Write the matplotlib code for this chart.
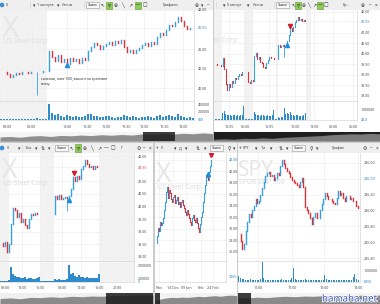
import numpy as np
import matplotlib
matplotlib.use("Agg")
import matplotlib.pyplot as plt
from matplotlib.patches import Rectangle, Circle
import matplotlib.patheffects as pe

W, H = 380, 304
plt.rcParams['font.family'] = ['Noto Sans', 'DejaVu Sans']
UP, DN = '#3aa0dc', '#d8343c'
VOLC = '#2f8ccb'
GRID = '#efefef'
OFF = '#f2f2f2'
TXT = '#555555'
FS = 2.7

# ---------------- data: top-left (X, 1 min) ----------------
tl_close = [40.42, 40.40, 40.35, 40.28, 40.33, 40.38, 40.36, 40.40, 40.42, 40.38,
            40.40, 40.41, 40.40, 40.42, 40.43, 40.45, 40.96, 40.80, 40.70, 40.85,
            40.68, 40.75, 40.62, 40.78, 40.70, 40.74, 40.65, 40.78, 40.72, 40.95,
            41.05, 41.15, 41.10, 41.00, 41.08, 41.12, 41.18, 41.10, 41.20, 41.15,
            41.22, 41.05, 40.92, 40.98, 40.90, 40.97, 41.02, 41.10, 41.15, 41.08,
            41.18, 41.12, 41.30, 41.42, 41.35, 41.50, 41.62, 41.58, 41.70, 41.82,
            41.72, 41.58, 41.52, 41.55, 41.55]
tl_vol = [6000, 4000, 9000, 5000, 3000, 7000, 4000, 5000, 3000, 6000,
          4000, 5000, 30000, 4000, 6000, 9000,
          390000, 160000, 110000, 140000, 90000, 70000, 120000, 80000, 60000, 95000,
          55000, 75000, 85000, 130000, 150000, 100000, 90000, 70000, 60000, 95000,
          80000, 55000, 50000, 70000, 65000, 110000, 95000, 60000, 85000, 55000,
          45000, 70000, 60000, 80000, 55000, 45000, 90000, 120000, 70000, 85000,
          105000, 80000, 70000, 140000, 95000, 65000, 50000, 60000, 40000]
tl_spike_idx, tl_spike_low = 12, 39.82
tl_buy_idx, tl_buy_price = 22, 40.60
tl_time_pos = [2, 10.3, 22, 28.7, 35, 41.7, 47.7, 54.3, 60.7]
tl_time_lbl = ['08:00', '09:00', '10:00', '10:30', '11:00', '11:30', '12:00', '12:30', '13:00']
tl_yticks = [42.0, 41.55, 41.0, 40.5, 40.0]
tl_ylbl = ['42.00', '41.55', '41.00', '40.50', '40.00']
tl_vticks = [400000, 200000, 0]
tl_vlbl = ['400000', '200000', '800']
tl_off = [(-1, 15.4)]
tl_note = 'сальная, лонг 500, вышел по трейлинг\nстопу'

# ---------------- data: top-right (X, 5 min) ----------------
tr_close = [39.50, 39.48, 39.47, 39.48, 39.45, 39.80, 39.30, 38.55, 38.30, 38.55,
            38.45, 38.70, 38.60, 38.85, 38.80, 38.95, 39.05, 39.00, 39.12, 39.15,
            39.14, 39.14, 38.65, 38.60, 38.75, 38.70, 39.90, 40.05, 39.75, 39.85,
            39.60, 39.55, 39.40, 39.35, 39.55, 39.70, 39.85, 39.80, 39.82, 39.78,
            39.76, 39.77, 40.45, 40.35, 40.40, 40.45, 40.40, 40.45, 40.60, 40.90,
            41.25, 41.10, 41.30, 41.50, 41.60, 41.78, 41.60, 41.68, 41.58, 41.62,
            41.55]
tr_vol = [20000, 15000, 10000, 15000, 10000,
          700000, 900000, 600000, 500000, 450000, 500000, 400000, 450000, 420000, 400000,
          450000, 380000, 500000, 450000, 1400000,
          30000, 20000, 15000, 20000, 30000, 60000,
          800000, 600000, 500000, 450000, 400000, 500000, 420000, 380000, 400000, 450000,
          380000, 350000, 420000, 1000000, 40000, 30000,
          250000, 200000, 220000, 300000, 1200000, 600000, 700000, 550000, 800000, 500000,
          450000, 400000, 480000, 420000, 380000, 400000, 360000, 450000, 700000]
tr_spike_idx, tr_spike_low = 46, 39.86
tr_buy_idx, tr_buy_price = 48, 40.45
tr_sell_idx, tr_sell_price = 50, 41.35
tr_time_pos = [9.3, 20, 36, 53.3, 66, 78.7, 92]
tr_time_lbl = ['12:05', '06:00', '15:05', '12:00', '18:00', '00:00', '06:00']
tr_yticks = [42.0, 41.55, 41.0, 40.5, 40.0, 39.5, 39.0, 38.5, 38.0]
tr_ylbl = ['42.00', '41.55', '41.00', '40.50', '40.00', '39.50', '39.00', '38.50', '38.00']
tr_vticks = [1000000, 0]
tr_vlbl = ['1000000', '40.0']
tr_off = [(-1, 4.5), (19.5, 25.5), (40.5, 41.9), (60.5, 64)]
tr_watermark = 'el Corp'

# ---------------- data: bottom-left (X, 15 min) ----------------
bl_close = [38.55, 38.45, 38.60, 38.20, 38.50, 39.30, 39.95, 39.85, 39.60, 39.75,
            39.40, 39.50, 39.25, 39.15, 39.50, 39.70, 39.65, 39.75, 39.70, 39.72,
            39.70, 39.72, 39.71, 39.70, 39.72, 39.71, 39.70, 40.40, 40.30, 40.45,
            40.30, 40.35, 40.38, 40.35, 40.40, 40.70, 41.15, 41.00, 41.20, 41.10,
            41.50, 41.60, 41.85, 41.70, 41.55, 41.60, 41.50, 41.60, 41.58, 41.55]
bl_vol = [100000, 80000, 120000, 90000, 150000, 1750000,
          900000, 700000, 500000, 600000, 450000, 400000, 500000, 350000, 400000,
          380000, 350000, 300000, 450000, 600000,
          30000, 20000, 20000, 15000, 20000, 10000, 15000,
          300000, 200000, 250000, 220000, 180000, 200000, 250000, 2100000,
          900000, 1000000, 700000, 600000, 800000, 500000, 550000, 450000, 500000,
          400000, 450000, 420000, 380000, 400000, 900000]
bl_spike_idx, bl_spike_low = 33, 39.82
bl_buy_idx, bl_buy_price = 34, 40.25
bl_sell_idx, bl_sell_price = 36.5, 41.32
bl_time_pos = [2.2, 10.5, 19.5, 30.5, 40, 49, 58]
bl_time_lbl = ['08:00', '12:00', '16:00', '08:00', '12:00', '16:00', '20:00']
bl_yticks = [42.0, 41.55, 41.0, 40.5, 40.0, 39.5, 39.0, 38.5, 38.0]
bl_ylbl = ['42.00', '41.55', '41.00', '40.50', '40.00', '39.50', '39.00', '38.50', '38.00']
bl_vticks = [2000000, 400000, 0]
bl_vlbl = ['2000000', '200000', '0']
bl_off = [(-1, 4), (19.5, 26.6), (49.5, 70)]

# ---------------- data: bottom-middle (X, daily) ----------------
md_close = [27.5, 28.8, 30.2, 29.6, 31.2, 30.6, 31.0, 31.9, 33.2, 34.7,
            36.4, 37.3, 35.4, 36.8, 36.3, 35.2, 34.7, 35.6, 35.9, 34.5,
            35.1, 35.6, 34.3, 34.7, 33.8, 34.6, 35.0, 34.1, 33.7, 33.0,
            32.4, 33.3, 32.6, 31.9, 31.2, 30.7, 31.8, 32.4, 31.5, 31.2,
            31.9, 31.1, 30.2, 29.5, 30.8, 32.1, 33.0, 34.7, 36.2, 37.7,
            39.4, 39.0, 38.5, 39.9, 41.0, 42.0]
md_vol = [9, 7, 10, 8, 11, 9, 7, 8, 10, 13, 11, 9, 8, 10, 12, 9, 7, 8, 10, 9,
          7, 11, 9, 8, 10, 7, 9, 8, 11, 10, 8, 9, 12, 10, 8, 9, 11, 13, 10, 9,
          8, 14, 11, 10, 9, 12, 10, 13, 11, 9, 10, 8, 11, 9, 10, 12]
md_buy_idx, md_buy_price = 52, 39.6
md_sell_idx, md_sell_price = 55, 42.8
md_time_pos = [3, 17, 30, 45, 57]
md_time_lbl = ['Nov', '14 Dec', '09 Jan', 'Feb', '24 Feb']
md_yticks = [42, 40, 38, 36, 34, 32, 30, 28, 26]
md_ylbl = ['42.00', '40.00', '38.00', '36.00', '34.00', '32.00', '30.00', '28.00', '26.00']
md_vticks = [4]
md_vlbl = ['2865']

# ---------------- data: bottom-right (SPY, 1 min) ----------------
spy_close = [235.70, 235.62, 235.51, 235.58, 235.74, 235.85, 235.95, 235.92, 236.01, 236.06,
             236.14, 236.10, 236.12, 236.20, 236.28, 236.36, 236.43, 236.47, 236.49, 236.44,
             236.45, 236.38, 236.41, 236.47, 236.45, 236.56, 236.64, 236.58, 236.53, 236.50,
             236.47, 236.42, 236.39, 236.36, 236.35, 236.32, 236.30, 236.36, 236.41, 236.30,
             236.05, 236.00, 235.97, 235.90, 235.83, 235.92, 235.97, 235.90, 235.91, 236.00,
             236.08, 236.15, 236.22, 236.18, 236.14, 236.15, 236.12, 236.10, 236.08, 236.16,
             236.24, 236.20, 236.22, 236.16, 236.12, 236.18, 236.18, 236.15, 236.16, 236.12,
             236.12, 236.06, 236.03]
spy_vol = [500000, 300000, 200000, 250000, 150000, 180000, 120000, 200000, 150000, 130000,
           170000, 120000, 150000, 200000, 1800000, 300000, 180000, 150000, 120000, 140000,
           100000, 130000, 110000, 150000, 120000, 100000, 200000, 150000, 120000, 110000,
           130000, 160000, 300000, 1200000, 250000, 150000, 120000, 100000, 130000, 110000,
           250000, 180000, 150000, 120000, 160000, 130000, 110000, 100000, 120000, 140000,
           110000, 180000, 600000, 200000, 150000, 120000, 100000, 110000, 130000, 120000,
           100000, 140000, 110000, 100000, 120000, 130000, 110000, 100000, 150000, 400000,
           700000, 200000, 150000]
spy_time_pos = [11.5, 32, 51.5, 72]
spy_time_lbl = ['10:00', '11:00', '12:00', '13:00']
spy_yticks = [236.6, 236.4, 236.2, 236.0, 235.8, 235.6, 235.4]
spy_ylbl = ['236.60', '236.39', '236.20', '236.00', '235.80', '235.60', '235.40']
spy_vticks = [1000000, 0]
spy_vlbl = ['1000000', '8105']

# navigator silhouettes (relative heights)
nav_tl = [0.45, 0.5, 0.42, 0.55, 0.6, 0.5, 0.62, 0.58, 0.66, 0.6, 0.7, 0.64, 0.72, 0.66, 0.78, 0.72, 0.82, 0.75, 0.86, 0.8, 0.9, 0.82]
nav_tr = [0.2, 0.25, 0.2, 0.3, 0.28, 0.35, 0.3, 0.4, 0.45, 0.5, 0.55, 0.6, 0.7, 0.75, 0.8, 0.78, 0.85, 0.8]
nav_bl = [0.5, 0.55, 0.48, 0.6, 0.58, 0.65, 0.6, 0.7, 0.66, 0.72, 0.7, 0.78, 0.75, 0.8, 0.85, 0.82]
nav_md = [0.3, 0.45, 0.55, 0.6, 0.58, 0.62, 0.6, 0.65, 0.7, 0.66, 0.72, 0.75, 0.7, 0.78, 0.8, 0.76]
nav_sp = [0.6, 0.55, 0.62, 0.58, 0.65, 0.7, 0.66, 0.72, 0.7, 0.75, 0.72, 0.78, 0.74, 0.8, 0.76, 0.82]

fig = plt.figure(figsize=(W / 100, H / 100), dpi=100)
fig.patch.set_facecolor('#cbcbcb')


def fbox(x, y, w, h):
    return [x / W, 1 - (y + h) / H, w / W, h / H]


def white_panel(x, y, w, h, fc='white'):
    fig.add_artist(Rectangle((x / W, 1 - (y + h) / H), w / W, h / H, transform=fig.transFigure,
                             fc=fc, ec='none', zorder=-5))


def px_axes(x, y, w, h, fc='white'):
    ax = fig.add_axes(fbox(x, y, w, h))
    ax.set_facecolor(fc)
    ax.set_xticks([]); ax.set_yticks([])
    for s in ax.spines.values():
        s.set_visible(False)
    ax.set_xlim(0, w); ax.set_ylim(h, 0)
    return ax


def toolbar(x, y, w, items):
    ax = px_axes(x, y, w, 10, fc='#efefef')
    ax.axhline(9.7, color='#d2d2d2', lw=0.5)
    for kind, px, s in items:
        dx = px - x
        if kind == 'dot':
            ax.add_patch(Circle((dx, 5), 1.6, color='#3b8fd0'))
        elif kind == 'box':
            ax.add_patch(Rectangle((dx - 1, 2), 13, 6, fc='#f8f8f8', ec='#9a9a9a', lw=0.4))
            ax.text(dx + 5.5, 5.2, s, fontsize=2.3, ha='center', va='center', color='#222')
        elif kind == 'green':
            ax.add_patch(Rectangle((dx - 3, 1.5), 6, 7, fc='#8fc95a', ec='#5f9a30', lw=0.4))
            ax.text(dx, 5.2, s, fontsize=3.2, ha='center', va='center', color='#222')
        elif kind == 'sep':
            ax.plot([dx, dx], [2, 8], color='#d0d0d0', lw=0.4)
        elif kind == 'icon':
            ax.text(dx, 5.2, s, fontsize=3.4, ha='center', va='center', color='#333')
        else:
            ax.text(dx, 5.2, s, fontsize=2.7, ha='left', va='center', color='#444')
    return ax


def draw_candles(ax, close, lw, spike=None):
    c = np.asarray(close, float)
    o = np.r_[c[0], c[:-1]]
    idx = np.arange(len(c))
    up = c >= o
    for m, col in ((up, UP), (~up, DN)):
        lc = ax.vlines(idx[m], np.minimum(o, c)[m], np.maximum(o, c)[m], colors=col, lw=lw, zorder=3)
        lc.set_capstyle('projecting')
    if spike is not None:
        i, lo = spike
        ax.vlines([i], [lo], [c[i]], colors=UP, lw=0.6, zorder=3)


def price_axes(x, y, w, h, xlim, ylim, yticks, ylbl, hl, hlc, xt, off):
    ax = fig.add_axes(fbox(x, y, w, h))
    ax.set_facecolor('none')
    ax.set_xlim(*xlim); ax.set_ylim(*ylim)
    for s in ('top', 'left', 'bottom'):
        ax.spines[s].set_visible(False)
    ax.spines['right'].set_color('#d6d6d6'); ax.spines['right'].set_linewidth(0.5)
    ax.yaxis.tick_right()
    ax.set_yticks(yticks); ax.set_yticklabels(ylbl)
    ax.set_xticks(xt); ax.set_xticklabels([])
    ax.tick_params(length=0, labelsize=FS, labelcolor=TXT, pad=3)
    ax.grid(True, color=GRID, lw=0.5)
    ax.set_axisbelow(True)
    if hl is not None:
        ax.get_yticklabels()[hl].set_color(hlc)
    for a, b in off:
        ax.axvspan(a, b, color=OFF, lw=0, zorder=0.5)
    return ax


def vol_axes(x, y, w, h, xlim, vmax, vol, bw, vticks, vlbl, xt, xl, pad, off, color=VOLC):
    ax = fig.add_axes(fbox(x, y, w, h))
    ax.set_facecolor('none')
    ax.set_xlim(*xlim); ax.set_ylim(0, vmax)
    ax.spines['left'].set_visible(False)
    for s in ('right', 'bottom', 'top'):
        ax.spines[s].set_color('#d8d8d8'); ax.spines[s].set_linewidth(0.5)
    ax.yaxis.tick_right()
    ax.set_yticks(vticks); ax.set_yticklabels(vlbl)
    ax.set_xticks(xt); ax.set_xticklabels(xl)
    ax.tick_params(axis='y', length=0, labelsize=FS, labelcolor=TXT, pad=3)
    ax.tick_params(axis='x', length=0, labelsize=FS, labelcolor=TXT, pad=pad)
    if len(vlbl) > 1:
        ax.get_yticklabels()[-1].set_color('#2f86c6')
    ax.grid(True, axis='x', color=GRID, lw=0.5)
    ax.set_axisbelow(True)
    for a, b in off:
        ax.axvspan(a, b, color=OFF, lw=0, zorder=0.5)
    ax.bar(np.arange(len(vol)), vol, width=bw, color=color, lw=0, zorder=3)
    return ax


def nav(x, y, w, h, vals, bg, fill, sel=None, selc='#1b1b1b'):
    ax = px_axes(x, y, w, h, fc=bg)
    ax.set_xlim(0, 1); ax.set_ylim(0, 1)
    xs = np.linspace(0, 1, len(vals))
    ax.fill_between(xs, 0, vals, color=fill, lw=0)
    if sel is not None:
        ax.axvspan(sel[0], sel[1], color=selc, alpha=0.85, lw=0)
    return ax


def watermark(ax, x, base_big, base_small, big, small, bs, ss):
    if big:
        ax.text(x / W, 1 - base_big / H, big, transform=fig.transFigure, fontsize=bs, color='#e7e7e7',
                va='baseline', ha='left', zorder=1, clip_on=True)
    ax.text((x + 1) / W, 1 - base_small / H, small, transform=fig.transFigure, fontsize=ss,
            color='#dcdcdc', va='baseline', ha='left', zorder=1, clip_on=True)


# ================= panel A: top-left =================
white_panel(0, 0, 213, 141)
toolbar(0, 0, 213, [('dot', 2, ''), ('txt', 6, 'X'), ('sep', 30, ''), ('icon', 34, '▾'),
                    ('txt', 37, '1 минута'), ('icon', 58, '▾'), ('txt', 62, 'Свечи'), ('sep', 84, ''),
                    ('box', 87, 'Замок'), ('icon', 102, '↖'), ('green', 109, '⚲'), ('icon', 116, '⊕'),
                    ('icon', 123, '╲'), ('icon', 130, '↗'), ('green', 138, '—'), ('icon', 145, '□'),
                    ('txt', 163, 'Графики'), ('icon', 197, '⊕'), ('icon', 202, '▾'), ('icon', 208, '–')])
axA = price_axes(0, 10, 194, 91, (-1 / 3, 64.33), (39.67, 41.975), tl_yticks, tl_ylbl, 1, '#2f7fb8',
                 tl_time_pos, tl_off)
draw_candles(axA, tl_close, 1.0, (tl_spike_idx, tl_spike_low))
axA.plot([tl_buy_idx], [tl_buy_price], marker='^', color='#1e8fe0', ms=3, zorder=4)
watermark(axA, 2, 37, 43, 'X', 'US Steel Corp', 21, 5)
axA.text(41 / W, 1 - 77 / H, tl_note, transform=fig.transFigure, fontsize=2.6, color='#333',
         va='top', ha='left', linespacing=1.5, zorder=5)
vol_axes(0, 101, 194, 18.5, (-1 / 3, 64.33), 480000, tl_vol, 0.6, tl_vticks, tl_vlbl,
         tl_time_pos, tl_time_lbl, 4, tl_off)
nav(0, 132, 213, 9, nav_tl, '#f5f5f5', '#8f8f8f', (0.67, 0.82))

# ================= panel B: top-right =================
white_panel(214, 0, 166, 141)
toolbar(214, 0, 166, [('sep', 216, ''), ('icon', 224, '▾'), ('txt', 227, '5 минут'), ('icon', 248, '▾'),
                      ('txt', 253, 'Свечи'), ('sep', 274, ''), ('box', 277, 'Замок'), ('icon', 293, '↖'),
                      ('green', 298, '⚲'), ('icon', 304, '⊕'), ('icon', 309, '╲'), ('icon', 314, '↗'),
                      ('green', 320, '—'), ('icon', 326, '□'), ('txt', 343, 'Гр...'), ('icon', 363, '⊕'),
                      ('icon', 370, '–'), ('icon', 376, '×')])
axB = price_axes(214, 10, 143, 91, (-0.7, 94.6), (37.76, 42.095), tr_yticks, tr_ylbl, 1, '#2f86c6',
                 tr_time_pos, tr_off)
draw_candles(axB, tr_close, 0.8, (tr_spike_idx, tr_spike_low))
axB.plot([tr_buy_idx], [tr_buy_price], marker='^', color='#1e8fe0', ms=3, zorder=4)
axB.plot([tr_sell_idx], [tr_sell_price], marker='v', color='#d01f2a', ms=3, zorder=4)
watermark(axB, 213, 37, 42, '', tr_watermark, 21, 5)
vol_axes(214, 101, 143, 18.5, (-0.7, 94.6), 1850000, tr_vol, 0.6, tr_vticks, tr_vlbl,
         tr_time_pos, tr_time_lbl, 4, tr_off)
nav(214, 132, 166, 9, nav_tr, '#1e1e1e', '#7a7a7a', None)

# ================= panel C: bottom-left =================
white_panel(0, 143, 153, 161)
toolbar(0, 143, 153, [('dot', 2, ''), ('txt', 7, 'X'), ('icon', 19, '▾'), ('sep', 22, ''),
                      ('txt', 25, '15м'), ('icon', 36, '▾'), ('icon', 43, '⇅'), ('icon', 49, '▾'),
                      ('box', 56, 'Замок'), ('icon', 71, '↖'), ('green', 78, '⚲'), ('icon', 85, '⊕'),
                      ('icon', 92, '╲'), ('icon', 99, '↗'), ('icon', 106, '—'), ('icon', 113, '□'),
                      ('txt', 121, 'Г'), ('icon', 139, '⚙'), ('icon', 144, '–'), ('icon', 150, '×')])
axC = price_axes(0, 153, 134, 108, (-0.5, 66.5), (37.84, 42.12), bl_yticks, bl_ylbl, 1, '#d8343c',
                 bl_time_pos, bl_off)
draw_candles(axC, bl_close, 1.0, (bl_spike_idx, bl_spike_low))
axC.plot([bl_buy_idx], [bl_buy_price], marker='^', color='#1e8fe0', ms=3, zorder=4)
axC.plot([bl_sell_idx], [bl_sell_price], marker='v', color='#d01f2a', ms=3, zorder=4)
watermark(axC, 2, 178, 185, 'X', 'US Steel Corp', 19, 5)
vol_axes(0, 261, 134, 20.5, (-0.5, 66.5), 2560000, bl_vol, 0.7, bl_vticks, bl_vlbl,
         bl_time_pos, bl_time_lbl, 3, bl_off)
nav(0, 293, 153, 11, nav_bl, '#f0f0f0', '#8a8a8a', (0.69, 1.0))

# ================= panel D: bottom-middle =================
white_panel(155, 143, 82, 161)
toolbar(155, 143, 82, [('icon', 157, '+'), ('txt', 161, 'X'), ('icon', 175, '▾'), ('txt', 179, 'Д'),
                       ('icon', 186, '▾'), ('icon', 198, '⇅'), ('icon', 205, '▾'), ('box', 211, 'Замок'),
                       ('icon', 229, '⚲'), ('icon', 234, '▾')])
axD = price_axes(155, 153, 71, 108, (-1, 70), (24.4, 43.2), md_yticks, md_ylbl, 0, '#2f86c6',
                 md_time_pos, [])
axD.tick_params(axis='y', pad=2)
draw_candles(axD, md_close, 0.8)
axD.plot([md_buy_idx], [md_buy_price], marker='^', color='#1e8fe0', ms=3, zorder=4)
axD.plot([md_sell_idx], [md_sell_price], marker='v', color='#d01f2a', ms=3, zorder=4)
watermark(axD, 156, 182, 189, 'X', 'US Steel Corp', 19, 5)
axD2 = vol_axes(155, 261, 71, 20.5, (-1, 70), 15, md_vol, 0.9, md_vticks, md_vlbl,
                md_time_pos, md_time_lbl, 3, [], color='#1f7fbd')
axD2.tick_params(axis='y', pad=2)
axD2.get_yticklabels()[0].set_color('#2f86c6')
nav(155, 293, 82, 11, nav_md, '#f3f3f3', '#8a8a8a', (0.0, 0.06))

# ================= panel E: bottom-right (SPY) =================
white_panel(238, 143, 142, 161)
toolbar(238, 143, 142, [('icon', 240, '+'), ('txt', 243, 'SPY'), ('icon', 256, '▾'), ('txt', 261, '1м'),
                        ('icon', 271, '▾'), ('icon', 281, '⇅'), ('icon', 287, '▾'), ('box', 293, 'Замок'),
                        ('icon', 311, '⚲'), ('icon', 317, '▾'), ('txt', 332, 'График'),
                        ('icon', 365, '⚙'), ('icon', 371, '–'), ('icon', 377, '×')])
axE = price_axes(238, 153, 122, 108, (-0.6, 73.2), (235.3625, 236.725), spy_yticks, spy_ylbl, 1,
                 '#2f86c6', spy_time_pos, [])
draw_candles(axE, spy_close, 1.0)
watermark(axE, 238, 176, 184, 'SPY', 'SPDR S&P 500', 15, 5)
vol_axes(238, 261, 122, 20.5, (-0.6, 73.2), 1860000, spy_vol, 0.6, spy_vticks, spy_vlbl,
         spy_time_pos, spy_time_lbl, 3, [])
nav(238, 293, 142, 11, nav_sp, '#f3f3f3', '#8a8a8a', (0.0, 0.09))

fig.text(322 / W, 1 - 299 / H, 'hamaha.net', fontsize=7, color='#3553b8', va='center', ha='left',
         path_effects=[pe.withStroke(linewidth=1.2, foreground='white')], zorder=10)

fig.savefig('out.png', dpi=100, facecolor=fig.get_facecolor())
